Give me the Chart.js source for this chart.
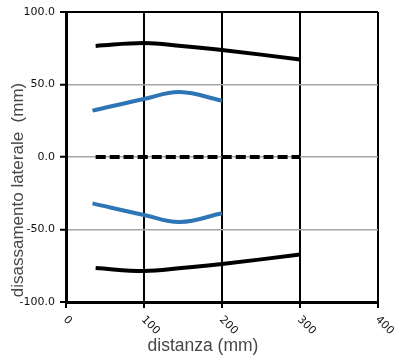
<!DOCTYPE html>
<html>
<head>
<meta charset="utf-8">
<script src="https://cdn.jsdelivr.net/npm/chart.js@4"></script>
<style>
  body { margin: 0; background: #fff; }
</style>
</head>
<body>
<canvas id="chart" width="396" height="358"></canvas>
<script>
// values
var xTicks = [0, 100, 200, 300, 400];

var blackX = [38, 100, 148, 200, 300];
var blackTop = [76.6, 78.6, 76.6, 73.8, 67.3];
var blackBottom = [-76.6, -78.6, -76.6, -73.8, -67.3];

var blueX = [34, 100, 146, 200];
var blueTop = [32, 40, 44.8, 38.8];
var blueBottom = [-32, -40, -44.8, -38.8];

var zeroX = [38, 100, 200, 300];
var zeroY = [0, 0, 0, 0];

var xTitle = 'distanza (mm)';
var yTitle = 'disassamento laterale  (mm)';

function pts(xs, ys) {
  return xs.map(function (x, i) { return { x: x, y: ys[i] }; });
}

var blue = '#2e75b6';
var tickFont = '11px "DejaVu Sans"';

// x tick labels are slanted downwards and the titles sit off-centre,
// so draw those texts ourselves
var extraText = {
  id: 'extraText',
  afterDraw: function (chart) {
    var ctx = chart.ctx;
    var xs = chart.scales.x;
    ctx.save();
    ctx.font = tickFont;
    ctx.fillStyle = '#111';
    ctx.textAlign = 'left';
    ctx.textBaseline = 'middle';
    xTicks.forEach(function (v) {
      var px = xs.getPixelForValue(v);
      ctx.save();
      ctx.translate(px - 1, 318);
      ctx.rotate(Math.PI / 4);
      ctx.fillText(String(v), 0, 0);
      ctx.restore();
    });

    ctx.fillStyle = '#474747';
    ctx.textAlign = 'center';
    ctx.textBaseline = 'alphabetic';
    ctx.font = '17.5px "Liberation Sans"';
    ctx.fillText(xTitle, 203, 351);
    ctx.font = '17px "Liberation Sans"';
    ctx.translate(22.5, 190);
    ctx.rotate(-Math.PI / 2);
    ctx.fillText(yTitle, 0, 0);
    ctx.restore();
  }
};

var lineOpts = { fill: false, pointRadius: 0, borderWidth: 4, tension: 0.4 };

dataPlot = new Chart(document.getElementById('chart'), {
  type: 'line',
  data: {
    datasets: [
      Object.assign({ data: pts(blackX, blackTop), borderColor: '#000' }, lineOpts),
      Object.assign({ data: pts(blueX, blueTop), borderColor: blue }, lineOpts),
      Object.assign({ data: pts(zeroX, zeroY), borderColor: '#000', borderDash: [10, 4] }, lineOpts),
      Object.assign({ data: pts(blueX, blueBottom), borderColor: blue }, lineOpts),
      Object.assign({ data: pts(blackX, blackBottom), borderColor: '#000' }, lineOpts)
    ]
  },
  options: {
    responsive: false,
    animation: false,
    layout: { padding: { left: 0, top: 12, right: 18, bottom: 0 } },
    plugins: { legend: { display: false }, tooltip: { enabled: false } },
    scales: {
      x: {
        type: 'linear',
        min: 0,
        max: 400,
        afterBuildTicks: function (s) { s.ticks = xTicks.map(function (v) { return { value: v }; }); },
        afterFit: function (s) { s.height = 56; },
        ticks: { display: false },
        grid: { color: '#000', lineWidth: 2, tickColor: '#000', tickLength: 6, tickWidth: 2 },
        border: { color: '#000', width: 3 }
      },
      y: {
        min: -100,
        max: 100,
        afterFit: function (s) { s.width = 66; },
        ticks: {
          stepSize: 50,
          color: '#111',
          font: { family: 'DejaVu Sans', size: 11 },
          padding: 5,
          callback: function (v) { return v.toFixed(1); }
        },
        grid: {
          color: function (c) { return Math.abs(c.tick.value) === 100 ? '#000' : '#a6a6a6'; },
          lineWidth: function (c) { return Math.abs(c.tick.value) === 100 ? 2 : 1.5; },
          tickColor: '#000',
          tickLength: 6,
          tickWidth: 2
        },
        border: { color: '#000', width: 3 }
      }
    }
  },
  plugins: [extraText]
});
</script>
</body>
</html>
